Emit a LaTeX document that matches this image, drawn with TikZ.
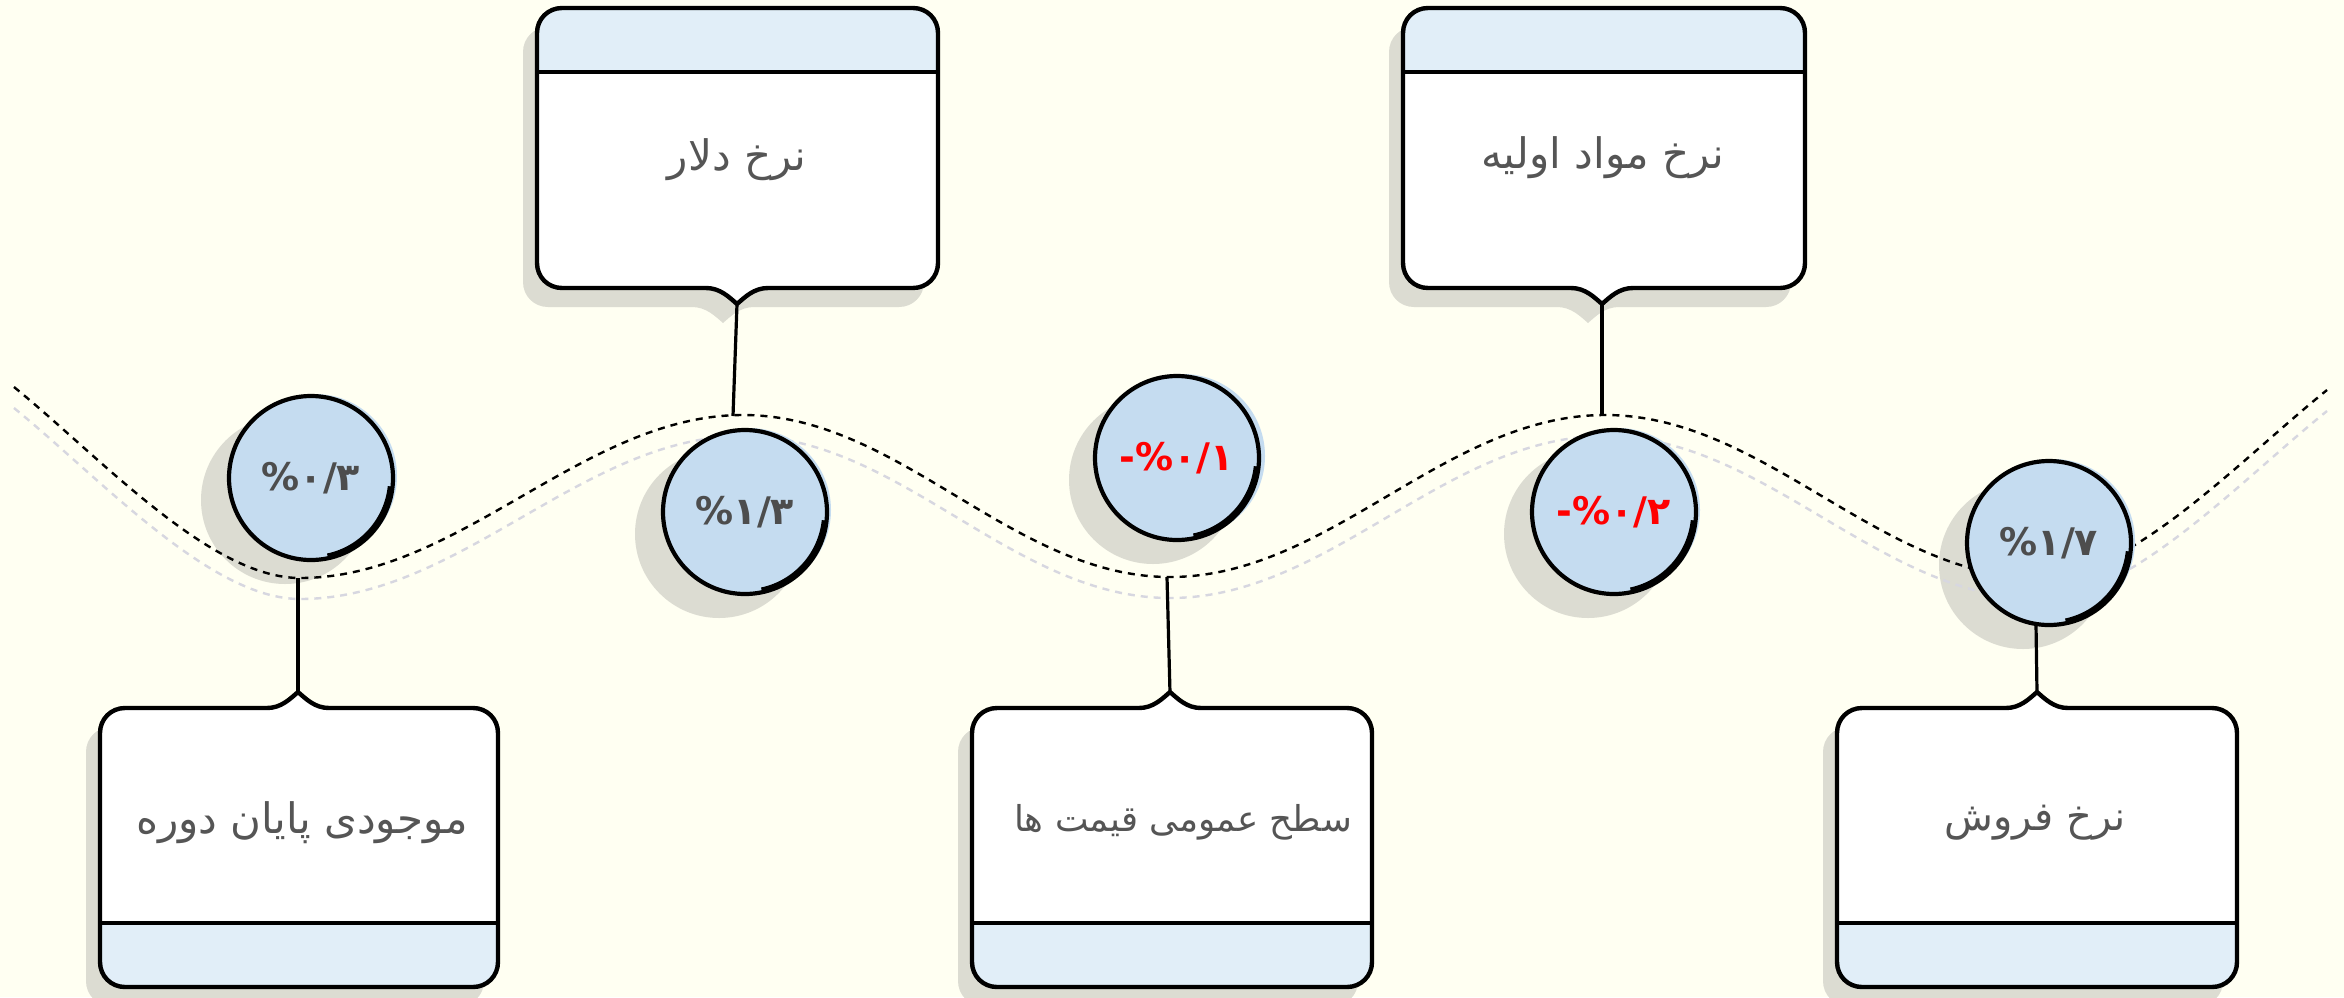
\documentclass[tikz,border=0pt]{standalone}
\usepackage{fontspec}
\newfontfamily\fa[Script=Arabic]{DejaVu Sans}
\TeXXeTstate=1
\definecolor{bg}{RGB}{255,255,242}
\definecolor{shd}{RGB}{220,220,210}
\definecolor{hdr}{RGB}{225,238,248}
\definecolor{cfill}{RGB}{197,220,240}
\definecolor{txt}{RGB}{85,85,85}
\definecolor{ctxt}{RGB}{77,77,77}
\definecolor{ghost}{RGB}{215,215,224}
\definecolor{negred}{RGB}{255,0,0}
% top box: #1 command, #2 x1, #3 x2, #4 y1, #5 y2, #6 tip x
\newcommand\tshape[6]{#1 (#2+25,#4) -- (#3-25,#4) .. controls (#3-11,#4) and (#3,#4+11) .. (#3,#4+25)
 -- (#3,#5-25) .. controls (#3,#5-11) and (#3-11,#5) .. (#3-25,#5)
 -- (#6+31,#5) .. controls (#6+17,#5) and (#6+8,#5+9) .. (#6,#5+16)
 .. controls (#6-8,#5+9) and (#6-17,#5) .. (#6-31,#5)
 -- (#2+25,#5) .. controls (#2+11,#5) and (#2,#5-11) .. (#2,#5-25)
 -- (#2,#4+25) .. controls (#2,#4+11) and (#2+11,#4) .. (#2+25,#4) -- cycle;}
% bottom box: notch on top
\newcommand\bshape[6]{#1 (#2+25,#4) -- (#6-31,#4) .. controls (#6-17,#4) and (#6-8,#4-9) .. (#6,#4-16)
 .. controls (#6+8,#4-9) and (#6+17,#4) .. (#6+31,#4)
 -- (#3-25,#4) .. controls (#3-11,#4) and (#3,#4+11) .. (#3,#4+25)
 -- (#3,#5-25) .. controls (#3,#5-11) and (#3-11,#5) .. (#3-25,#5)
 -- (#2+25,#5) .. controls (#2+11,#5) and (#2,#5-11) .. (#2,#5-25)
 -- (#2,#4+25) .. controls (#2,#4+11) and (#2+11,#4) .. (#2+25,#4) -- cycle;}
\newcommand\topcard[6]{% x1 x2 y1 y2 tip bandy
 \begin{scope}[shift={(-14,19)}]\tshape{\fill[shd]}{#1}{#2}{#3}{#4}{#5}\end{scope}
 \tshape{\fill[white]}{#1}{#2}{#3}{#4}{#5}
 \begin{scope}\tshape{\clip}{#1}{#2}{#3}{#4}{#5}\fill[hdr] (#1-5,#3-5) rectangle (#2+5,#6);\end{scope}
 \draw[cardline] (#1,#6) -- (#2,#6);
 \tshape{\draw[cardline]}{#1}{#2}{#3}{#4}{#5}}
\newcommand\botcard[6]{% x1 x2 y1 y2 tip bandy
 \begin{scope}[shift={(-14,19)}]\bshape{\fill[shd]}{#1}{#2}{#3}{#4}{#5}\end{scope}
 \bshape{\fill[white]}{#1}{#2}{#3}{#4}{#5}
 \begin{scope}\bshape{\clip}{#1}{#2}{#3}{#4}{#5}\fill[hdr] (#1-5,#6) rectangle (#2+5,#4+5);\end{scope}
 \draw[cardline] (#1,#6) -- (#2,#6);
 \bshape{\draw[cardline]}{#1}{#2}{#3}{#4}{#5}}
\newcommand\wave{(14,387) .. controls (100,457) and (210,578) .. (300,578)
 .. controls (460,578) and (583,415) .. (743,415)
 .. controls (900,415) and (1012,577) .. (1170,577)
 .. controls (1330,577) and (1445,415) .. (1605,415)
 .. controls (1765,415) and (1880,578) .. (2040,578)
 .. controls (2130,578) and (2240,460) .. (2327,390)}
\begin{document}
\begin{tikzpicture}[x=0.5pt,y=-0.5pt,
  cardline/.style={line width=2.2pt,line join=round},
  conn/.style={line width=1.6pt},
  lbl/.style={font=\fa\fontsize{21}{24}\selectfont,text=txt,inner sep=0pt},
  circ/.style={circle,draw,line width=2.1pt,fill=cfill,minimum size=82pt,inner sep=0pt,
     font=\fa\bfseries\fontsize{19}{22}\selectfont,text=ctxt},
  neg/.style={text=negred},
  wavestyle/.style={line width=1.2pt,dash pattern=on 3.5pt off 3pt}]
\useasboundingbox (0,0) rectangle (2344,997);
\fill[bg] (0,0) rectangle (2344,997);
% cards
\topcard{537}{938}{8}{288}{737}{72}
\topcard{1403}{1805}{8}{288}{1602}{72}
\botcard{100}{498}{708}{987}{298}{923}
\botcard{972}{1372}{708}{987}{1170}{923}
\botcard{1837}{2237}{708}{987}{2037}{923}
% labels
\node[lbl] (lb1) at (737,160) {\beginR نرخ دلار\endR};
\node[lbl] (lb2) at (1603,158) {\beginR نرخ مواد اولیه\endR};
\node[lbl] (lb3) at (302,823) {\beginR موجودی پایان دوره\endR};
\node[lbl,font=\fa\fontsize{17.8}{21}\selectfont] (lb4) at (1183,822) {\beginR سطح عمومی قیمت ها\endR};
\node[lbl,font=\fa\fontsize{20}{23}\selectfont] (lb5) at (2035,823) {\beginR نرخ فروش\endR};
% circle shadows
\foreach \cx/\cy in {311/478,745/512,1179/458,1614/512,2049/543}
  \fill[shd] (\cx-26,\cy+22) circle (84);
% wave
\draw[ghost,wavestyle,shift={(0,21)}] \wave;
\draw[wavestyle] \wave;
% coordinates
\coordinate (t1) at (737,304); \coordinate (p1) at (733,416);
\coordinate (t2) at (1602,304); \coordinate (p2) at (1602,416);
\coordinate (p3) at (298,578); \coordinate (t3) at (298,693);
\coordinate (p4) at (1167,577); \coordinate (t4) at (1170,693);
\coordinate (p5) at (2036,625); \coordinate (t5) at (2037,693);
% offset fills
\foreach \cx/\cy in {311/478,745/512,1179/458,1614/512,2049/543}
  \fill[cfill] (\cx+4,\cy-2) circle (82);
% circles
\node[circ] (c1) at (311,478) {\%۰/۳};
\node[circ] (c2) at (745,512) {\%۱/۳};
\node[circ,neg] (c3) at (1177,458) {\hbox{-}\hbox{\%۰/۱}};
\node[circ,neg] (c4) at (1614,512) {\hbox{-}\hbox{\%۰/۲}};
\node[circ] (c5) at (2049,543) {\%۱/۷};
\foreach \c in {c1,c2,c3,c4,c5}
  \draw[line width=1.8pt] ([shift={(6:79)}]\c.center) arc (6:78:79);
% connectors
\draw[conn] (t1) -- (p1);
\draw[conn] (t2) -- (p2);
\draw[conn] (p3) -- (t3);
\draw[conn] (p4) -- (t4);
\draw[conn] (p5) -- (t5);
\end{tikzpicture}
\end{document}
